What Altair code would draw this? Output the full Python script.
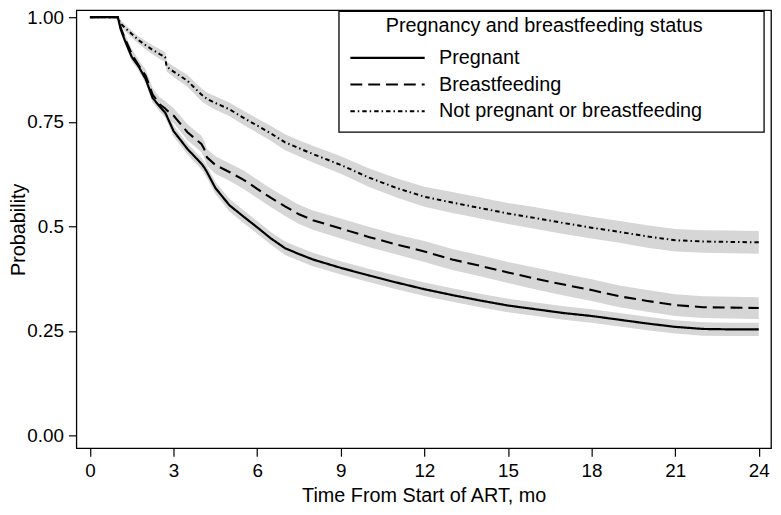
import altair as alt
import pandas as pd

# Time grid (months) and Kaplan-Meier estimates
TIME = [0, 1.0, 1.1, 1.25, 1.5, 1.75, 2.0, 2.25, 2.5, 2.7, 2.75, 3.0, 3.5, 4.0, 4.1, 4.2,
        4.5, 5.0, 5.5, 6.0, 6.5, 7.0, 7.5, 8.0, 9, 10, 11, 12, 13, 14, 15, 16, 17, 18,
        19, 20, 21, 22, 23, 24]

PREGNANT = [1.0, 1.0, 0.972, 0.945, 0.905, 0.882, 0.852, 0.807, 0.787, 0.772, 0.765, 0.728,
            0.685, 0.650, 0.641, 0.630, 0.592, 0.551, 0.524, 0.498, 0.471, 0.448, 0.434,
            0.421, 0.401, 0.383, 0.366, 0.350, 0.336, 0.323, 0.311, 0.302, 0.293, 0.286,
            0.277, 0.268, 0.260, 0.255, 0.254, 0.254]

BREASTFEEDING = [1.0, 1.0, 0.975, 0.950, 0.912, 0.885, 0.860, 0.815, 0.792, 0.782, 0.778,
                 0.765, 0.725, 0.697, 0.685, 0.665, 0.647, 0.630, 0.612, 0.590, 0.568,
                 0.548, 0.529, 0.515, 0.495, 0.475, 0.457, 0.440, 0.421, 0.406, 0.390,
                 0.375, 0.361, 0.348, 0.333, 0.322, 0.312, 0.307, 0.306, 0.305]

NOT_PB = [1.0, 1.0, 0.985, 0.975, 0.960, 0.945, 0.933, 0.922, 0.912, 0.905, 0.882, 0.870,
          0.848, 0.815, 0.810, 0.805, 0.795, 0.780, 0.760, 0.741, 0.722, 0.701, 0.687,
          0.673, 0.647, 0.617, 0.592, 0.571, 0.557, 0.544, 0.531, 0.520, 0.508, 0.497,
          0.487, 0.476, 0.467, 0.464, 0.463, 0.462]

# Half-widths of the 95% confidence bands
PREGNANT_HW = [0, 0, 0.008, 0.009, 0.010, 0.010, 0.011, 0.011, 0.012, 0.012, 0.012, 0.013,
               0.013, 0.014, 0.014, 0.014, 0.014, 0.015, 0.015, 0.015, 0.015, 0.016, 0.016,
               0.016, 0.016, 0.016, 0.016, 0.016, 0.016, 0.016, 0.016, 0.016, 0.016, 0.016,
               0.016, 0.016, 0.016, 0.016, 0.016, 0.016]
BREASTFEEDING_HW = [0, 0, 0.009, 0.010, 0.012, 0.013, 0.015, 0.016, 0.017, 0.018, 0.018,
                    0.018, 0.019, 0.020, 0.020, 0.020, 0.021, 0.021, 0.022, 0.022, 0.022,
                    0.023, 0.023, 0.023, 0.024, 0.024, 0.024, 0.025, 0.025, 0.025, 0.025,
                    0.026, 0.026, 0.026, 0.026, 0.026, 0.026, 0.026, 0.026, 0.026]
NOT_PB_HW = [0, 0, 0.007, 0.008, 0.009, 0.009, 0.010, 0.011, 0.012, 0.012, 0.012, 0.013,
             0.014, 0.015, 0.015, 0.015, 0.016, 0.016, 0.017, 0.017, 0.018, 0.019, 0.019,
             0.020, 0.021, 0.022, 0.023, 0.024, 0.025, 0.025, 0.025, 0.026, 0.026, 0.026,
             0.026, 0.027, 0.027, 0.027, 0.027, 0.027]

GROUPS = ["Pregnant", "Breastfeeding", "Not pregnant or breastfeeding"]
X_TICKS = [0, 3, 6, 9, 12, 15, 18, 21, 24]
Y_TICKS = [0, 0.25, 0.5, 0.75, 1.0]

rows = []
for g, vals, hws in zip(GROUPS, [PREGNANT, BREASTFEEDING, NOT_PB],
                        [PREGNANT_HW, BREASTFEEDING_HW, NOT_PB_HW]):
    for t, v, h in zip(TIME, vals, hws):
        rows.append({"group": g, "t": t, "p": v, "lo": v - h, "hi": v + h})
df = pd.DataFrame(rows)

FONT = "Liberation Sans"
LABEL_SIZE = 19
TITLE_SIZE = 20

axis_common = dict(
    grid=False, domain=False, tickColor="black", tickSize=8, tickWidth=1.2,
    labelFontSize=LABEL_SIZE, labelColor="black", labelFont=FONT,
    titleFontSize=TITLE_SIZE, titleFontWeight="normal", titleColor="black", titleFont=FONT,
    labelFlush=False, labelOverlap=False,
)

x_enc = alt.X(
    "t:Q",
    scale=alt.Scale(domain=[-0.487, 24.44], nice=False, zero=False),
    axis=alt.Axis(values=X_TICKS, title="Time From Start of ART, mo",
                  labelPadding=6, titlePadding=5, format="d", **axis_common),
)
y_scale = alt.Scale(domain=[-0.0301, 1.0166], nice=False, zero=False)
y_axis = alt.Axis(values=Y_TICKS, title="Probability", labelPadding=5,
                  titleX=-48, titleY=221, titleBaseline="bottom", titleAngle=270,
                  labelExpr="datum.value == 0.5 ? '0.5' : format(datum.value, '.2f')",
                  **axis_common)

bands = alt.Chart(df).mark_area(color="#d6d6d6", opacity=1).encode(
    x=x_enc,
    y=alt.Y("lo:Q", scale=y_scale, axis=y_axis),
    y2="hi:Q",
    detail="group:N",
)

lines = alt.Chart(df).mark_line(color="black").encode(
    x=x_enc,
    y=alt.Y("p:Q", scale=y_scale, axis=y_axis),
    strokeDash=alt.StrokeDash(
        "group:N",
        scale=alt.Scale(domain=GROUPS, range=[[1, 0], [12, 6], [4.5, 3, 1.5, 3]]),
        legend=alt.Legend(
            title="Pregnancy and breastfeeding status",
            orient="none", legendX=275, legendY=6, padding=0,
            titleFontSize=TITLE_SIZE, titleFontWeight="normal", titleFont=FONT,
            titleColor="black", titleAnchor="end", titlePadding=12, titleLimit=500,
            labelFontSize=TITLE_SIZE, labelFont=FONT, labelColor="black", labelOffset=13,
            labelLimit=500,
            symbolType="stroke", symbolSize=5625, symbolStrokeWidth=2,
            symbolStrokeColor="black", clipHeight=20, rowPadding=7,
        ),
    ),
    strokeWidth=alt.StrokeWidth("group:N", scale=alt.Scale(domain=GROUPS, range=[2.2, 2.0, 1.8]),
                                legend=None),
)

box = alt.Chart(pd.DataFrame({"k": [0]})).mark_rect(
    fill="white", stroke="black", strokeWidth=1.3
).encode(
    x=alt.value(265), x2=alt.value(694), y=alt.value(1), y2=alt.value(123)
)

chart = alt.layer(bands, lines, box).properties(
    width=701, height=442,
    autosize=alt.AutoSizeParams(type="none"),
    padding={"left": 69, "top": 0, "right": 2, "bottom": 57},
).configure(
    font=FONT,
    style={"guide-label": {"fontSize": LABEL_SIZE, "font": FONT},
           "guide-title": {"fontSize": TITLE_SIZE, "font": FONT}},
).configure_view(
    stroke="black", strokeWidth=1.3
).configure_axis(
    labelFontSize=LABEL_SIZE, titleFontSize=TITLE_SIZE
)

chart.save("out.html", embed_options={"renderer": "svg", "actions": False})
